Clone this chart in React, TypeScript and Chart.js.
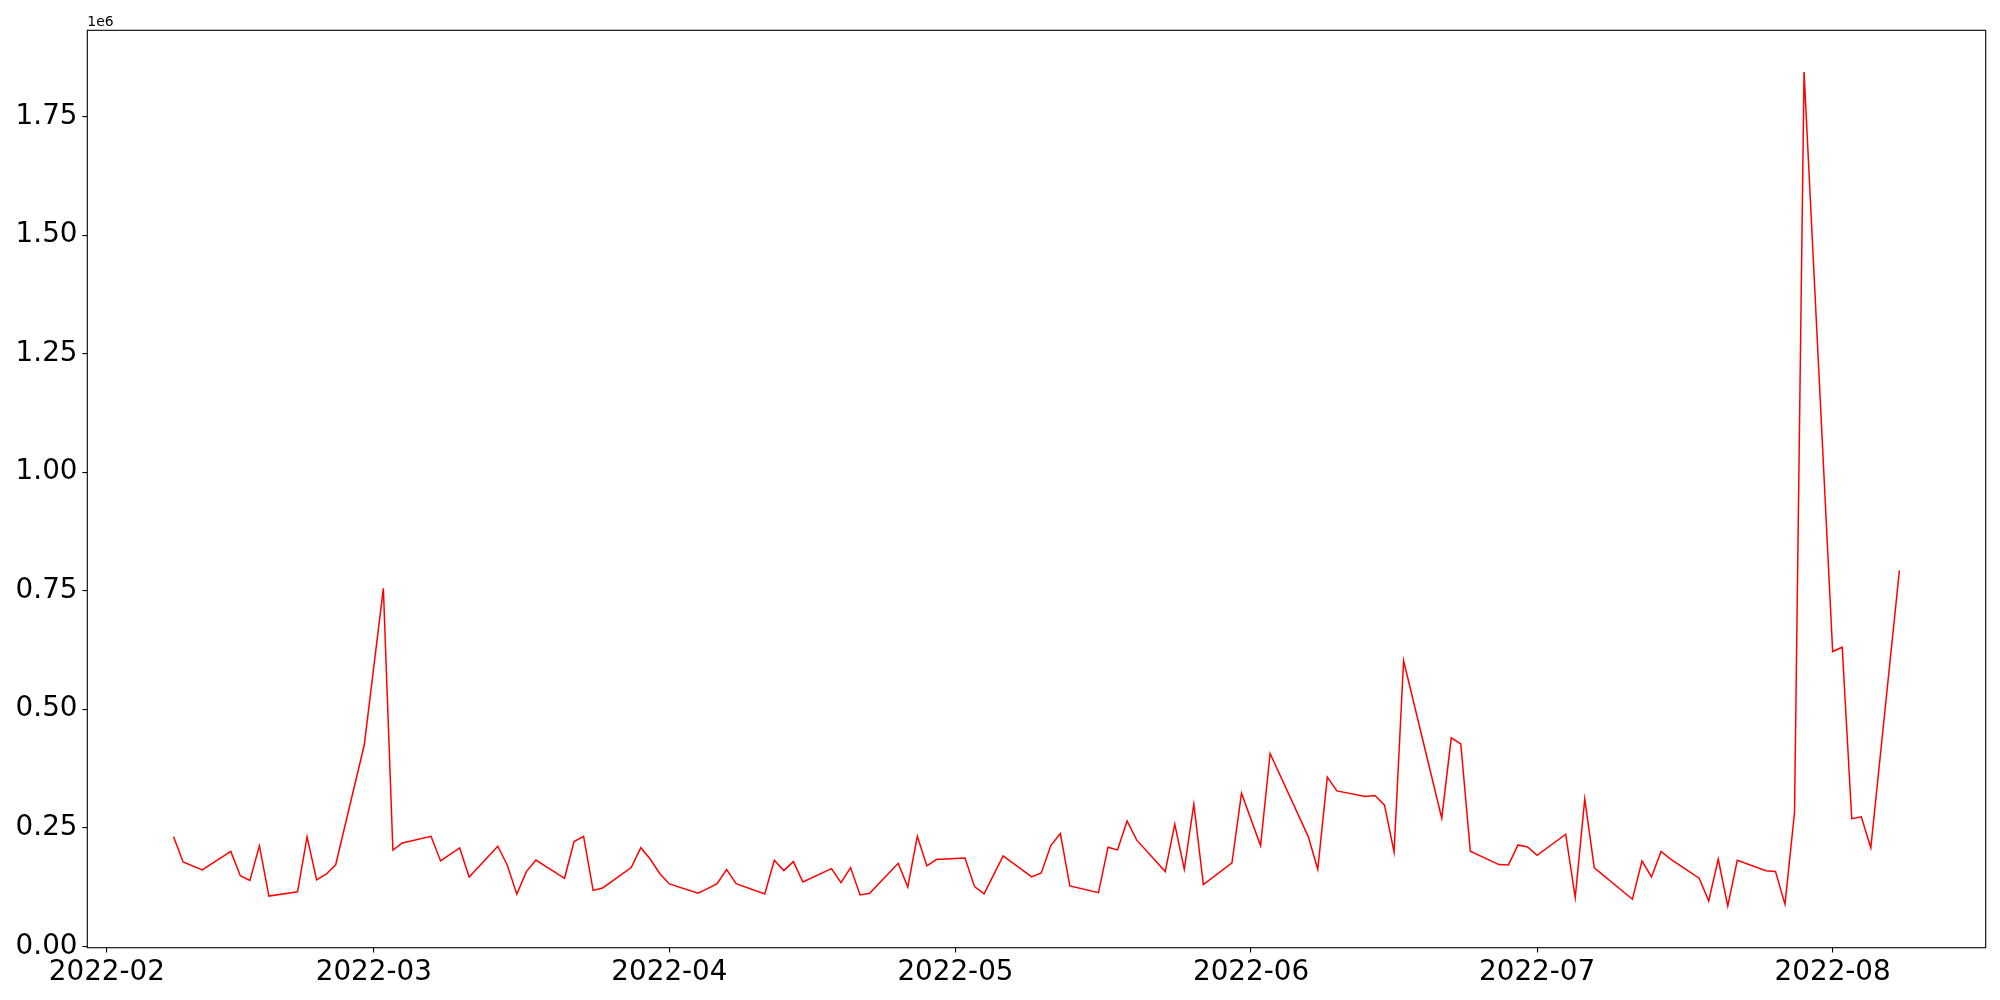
import React, { useEffect, useRef } from "react";
import { Chart, registerables } from "chart.js";

Chart.register(...registerables);

// ---- data ----
const dates: string[] = [
  "2022-02-08", "2022-02-09", "2022-02-11", "2022-02-14", "2022-02-15", "2022-02-16", "2022-02-17", "2022-02-18",
  "2022-02-21", "2022-02-22", "2022-02-23", "2022-02-24", "2022-02-25", "2022-02-28",
  "2022-03-02", "2022-03-03", "2022-03-04", "2022-03-07", "2022-03-08", "2022-03-10", "2022-03-11",
  "2022-03-14", "2022-03-15", "2022-03-16", "2022-03-17", "2022-03-18", "2022-03-21", "2022-03-22",
  "2022-03-23", "2022-03-24", "2022-03-25", "2022-03-28", "2022-03-29", "2022-03-30", "2022-03-31",
  "2022-04-01", "2022-04-04", "2022-04-05", "2022-04-06", "2022-04-07", "2022-04-08", "2022-04-11",
  "2022-04-12", "2022-04-13", "2022-04-14", "2022-04-15", "2022-04-18", "2022-04-19", "2022-04-20",
  "2022-04-21", "2022-04-22", "2022-04-25", "2022-04-26", "2022-04-27", "2022-04-28", "2022-04-29",
  "2022-05-02", "2022-05-03", "2022-05-04", "2022-05-06", "2022-05-09", "2022-05-10", "2022-05-11",
  "2022-05-12", "2022-05-13", "2022-05-16", "2022-05-17", "2022-05-18", "2022-05-19", "2022-05-20",
  "2022-05-23", "2022-05-24", "2022-05-25", "2022-05-26", "2022-05-27", "2022-05-30", "2022-05-31",
  "2022-06-02", "2022-06-03", "2022-06-07", "2022-06-08", "2022-06-09", "2022-06-10", "2022-06-13",
  "2022-06-14", "2022-06-15", "2022-06-16", "2022-06-17", "2022-06-21", "2022-06-22", "2022-06-23",
  "2022-06-24", "2022-06-27", "2022-06-28", "2022-06-29", "2022-06-30", "2022-07-01", "2022-07-04",
  "2022-07-05", "2022-07-06", "2022-07-07", "2022-07-11", "2022-07-12", "2022-07-13", "2022-07-14",
  "2022-07-15", "2022-07-18", "2022-07-19", "2022-07-20", "2022-07-21", "2022-07-22", "2022-07-25",
  "2022-07-26", "2022-07-27", "2022-07-28", "2022-07-29", "2022-08-01", "2022-08-02", "2022-08-03",
  "2022-08-04", "2022-08-05", "2022-08-08",
];

const volumes: number[] = [
  231000, 178000, 161000, 200000, 149000, 139000, 212000, 106000,
  115000, 231000, 140000, 152000, 172000, 425000,
  755000, 203000, 218000, 232000, 180000, 207500, 146000,
  211000, 171000, 110000, 157500, 182000, 143500, 221000,
  232000, 118000, 123000, 166000, 208000, 183600, 153000,
  131500, 112000, 121700, 132000, 162000, 132000, 110400,
  181500, 159600, 178600, 135700, 163800, 134300, 166000,
  108300, 112000, 175000, 125000, 232000, 169500, 183000,
  186400, 125800, 110400, 190600, 146300, 154700, 212400,
  237700, 127300, 113200, 209000, 203300, 264500, 224400,
  157500, 257500, 162500, 299800, 130000, 175800, 323000,
  212400, 406600, 231400, 162500, 356800, 327800, 315800,
  318000, 297700, 199000, 602300, 270200, 439700, 427000,
  200500, 172300, 171600, 213800, 209600, 192000, 236400,
  102600, 311000, 165300, 99200, 180000, 146300, 200000,
  184000, 143700, 95500, 184000, 85000, 181600, 159400,
  158000, 88900, 282200, 1844000, 621700, 630800, 269100,
  273000, 207700, 792900,
];

const monthTicks: string[] = ["2022-02-01", "2022-03-01", "2022-04-01", "2022-05-01", "2022-06-01", "2022-07-01", "2022-08-01"];
const monthLabels: string[] = ["2022-02", "2022-03", "2022-04", "2022-05", "2022-06", "2022-07", "2022-08"];
const yTicks: number[] = [0, 250000, 500000, 750000, 1000000, 1250000, 1500000, 1750000];
const offsetLabel = "1e6";

const toMs = (s: string) => Date.parse(s + "T00:00:00Z");

export default function App() {
  const ref = useRef<HTMLCanvasElement | null>(null);

  useEffect(() => {
    if (!ref.current) return;
    const xs = dates.map(toMs);
    const xMinD = Math.min(...xs);
    const xMaxD = Math.max(...xs);
    const xr = xMaxD - xMinD;
    const yMinD = Math.min(...volumes);
    const yMaxD = Math.max(...volumes);
    const yr = yMaxD - yMinD;

    const FONT = "'DejaVu Sans', sans-serif";
    const tickFont = { family: FONT, size: 27.8 };

    const framePlugin = {
      id: "frame",
      afterDraw(chart: any) {
        const { ctx, chartArea } = chart;
        ctx.save();
        ctx.strokeStyle = "#000";
        ctx.lineWidth = 1.1;
        ctx.strokeRect(chartArea.left, chartArea.top, chartArea.right - chartArea.left, chartArea.bottom - chartArea.top);
        ctx.font = "13.9px " + FONT;
        ctx.fillStyle = "#000";
        ctx.textAlign = "left";
        ctx.textBaseline = "alphabetic";
        ctx.fillText(offsetLabel, chartArea.left, chartArea.top - 4);
        ctx.restore();
      },
    };

    const chart = new Chart(ref.current, {
      type: "line",
      data: {
        datasets: [
          {
            data: xs.map((x, i) => ({ x, y: volumes[i] })),
            borderColor: "#ff0000",
            borderWidth: 1.5,
            pointRadius: 0,
            tension: 0,
            fill: false,
          },
        ],
      },
      options: {
        animation: false,
        responsive: false,
        maintainAspectRatio: false,
        layout: { padding: { left: 0, top: 30.3, right: 14.3, bottom: 0 } },
        plugins: { legend: { display: false }, tooltip: { enabled: false } },
        scales: {
          x: {
            type: "linear",
            min: xMinD - 0.05 * xr,
            max: xMaxD + 0.05 * xr,
            afterBuildTicks: (scale: any) => {
              scale.ticks = monthTicks.map((d) => ({ value: toMs(d) }));
            },
            afterFit: (scale: any) => {
              scale.height = 52.3;
            },
            ticks: {
              autoSkip: false,
              maxRotation: 0,
              minRotation: 0,
              padding: 3,
              color: "#000",
              font: tickFont,
              callback: (v: any) => {
                const i = monthTicks.map(toMs).indexOf(Number(v));
                return i >= 0 ? monthLabels[i] : "";
              },
            },
            grid: { display: true, drawOnChartArea: false, drawTicks: true, tickLength: 4.9, color: "#000", lineWidth: 1.1 },
            border: { display: false },
          },
          y: {
            type: "linear",
            min: yMinD - 0.05 * yr,
            max: yMaxD + 0.05 * yr,
            afterBuildTicks: (scale: any) => {
              scale.ticks = yTicks.map((v) => ({ value: v }));
            },
            afterFit: (scale: any) => {
              scale.width = 87.3;
            },
            ticks: {
              autoSkip: false,
              padding: 4.9,
              color: "#000",
              font: tickFont,
              callback: (v: any) => (Number(v) / 1e6).toFixed(2),
            },
            grid: { display: true, drawOnChartArea: false, drawTicks: true, tickLength: 4.9, color: "#000", lineWidth: 1.1 },
            border: { display: false },
          },
        },
      },
      plugins: [framePlugin],
    } as any);

    return () => chart.destroy();
  }, []);

  return (
    <div style={{ position: "fixed", left: 0, top: 0, width: 2000, height: 1000, background: "#fff" }}>
      <canvas ref={ref} width={2000} height={1000} style={{ width: 2000, height: 1000, display: "block" }} />
    </div>
  );
}
